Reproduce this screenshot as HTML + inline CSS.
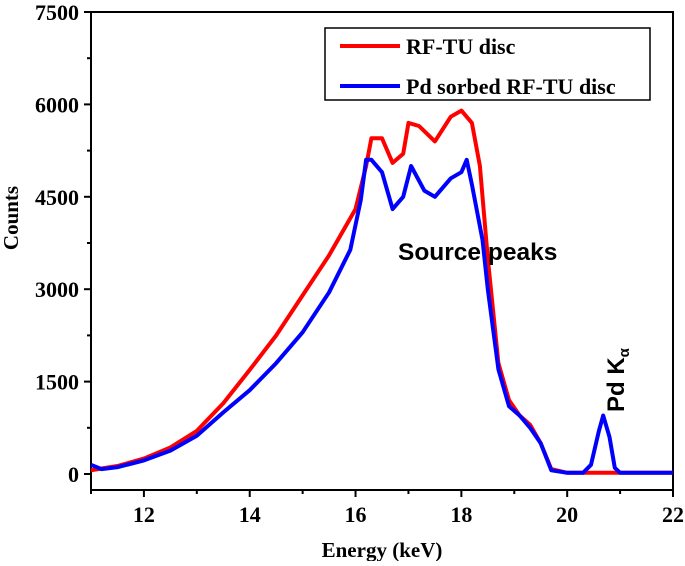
<!DOCTYPE html>
<html><head><meta charset="utf-8"><style>
body{margin:0;background:#fff}
svg text{font-family:"Liberation Serif",serif;font-weight:bold;fill:#000}
</style></head><body>
<svg id="c" width="685" height="561" xmlns="http://www.w3.org/2000/svg"></svg>
<script>
const xTicks=[12,14,16,18,20,22];
const yTicks=[0,1500,3000,4500,6000,7500];
const redE=[11,11.2,11.5,12,12.5,13,13.5,14,14.5,15,15.5,16,16.2,16.3,16.5,16.7,16.9,17.0,17.2,17.5,17.8,18.0,18.2,18.35,18.5,18.7,18.9,19.1,19.3,19.5,19.7,20,22];
const redC=[60,90,130,250,430,700,1150,1690,2250,2900,3550,4300,5000,5450,5450,5050,5200,5700,5650,5400,5800,5900,5700,5000,3500,1800,1200,950,800,500,80,20,20];
const blueE=[11,11.2,11.5,12,12.5,13,13.5,14,14.5,15,15.5,15.9,16.1,16.2,16.3,16.5,16.7,16.9,17.05,17.3,17.5,17.8,18.0,18.1,18.2,18.4,18.5,18.7,18.9,19.1,19.3,19.5,19.7,20,20.3,20.45,20.6,20.68,20.8,20.9,21,22];
const blueC=[150,80,110,220,380,620,1000,1360,1800,2300,2950,3640,4450,5100,5100,4900,4300,4500,5000,4600,4500,4800,4900,5100,4700,3800,3000,1700,1100,950,750,500,60,20,20,150,700,950,600,100,20,20];
const L=91,R=673,T=12,B=490;
const sx=e=>L+(e-11)*(R-L)/11;
const sy=c=>474-c*(474-12)/7500;
const NS="http://www.w3.org/2000/svg",svg=document.getElementById('c');
function mk(t,a,p){const e=document.createElementNS(NS,t);for(const k in a)e.setAttribute(k,a[k]);(p||svg).appendChild(e);return e;}
const frame=mk('rect',{x:L,y:T,width:R-L,height:B-T,fill:'none',stroke:'#000','stroke-width':2});


for(let i=0;i<xTicks.length;i++){const v=xTicks[i];
 const t=mk('line',{x1:sx(v),x2:sx(v),y1:B,y2:B+7,stroke:'#000','stroke-width':2});
 
 
 const m=mk('line',{x1:sx(v-1),x2:sx(v-1),y1:B,y2:B+4,stroke:'#000','stroke-width':2});
 
 
 const l=mk('text',{x:sx(v),y:B+32,'text-anchor':'middle','font-size':22});l.textContent=v;
 
 }
for(let i=0;i<yTicks.length;i++){const v=yTicks[i];
 const t=mk('line',{x1:L-7,x2:L,y1:sy(v),y2:sy(v),stroke:'#000','stroke-width':2});
 
 
 if(v<7500){const m=mk('line',{x1:L-4,x2:L,y1:sy(v+750),y2:sy(v+750),stroke:'#000','stroke-width':2});
 
 }
 const l=mk('text',{x:L-12,y:sy(v)+8,'text-anchor':'end','font-size':22});l.textContent=v;
 
 }
const xt=mk('text',{x:382,y:557,'text-anchor':'middle','font-size':21});xt.textContent='Energy (keV)';


const yt=mk('text',{x:0,y:0,'text-anchor':'middle','font-size':21,transform:'translate(18,218) rotate(-90)'});yt.textContent='Counts';


function path(E,C){return E.map((e,i)=>(i?'L':'M')+sx(e).toFixed(1)+' '+sy(C[i]).toFixed(1)).join(' ');}
const pr=mk('path',{d:path(redE,redC),fill:'none',stroke:'#ff0000','stroke-width':4,'stroke-linejoin':'round'});


const pb=mk('path',{d:path(blueE,blueC),fill:'none',stroke:'#0000ff','stroke-width':4,'stroke-linejoin':'round'});


const lg=mk('g',{});


mk('rect',{x:325,y:28,width:325,height:72,fill:'#fff',stroke:'#000','stroke-width':1.5},lg);
mk('line',{x1:340,x2:400,y1:46,y2:46,stroke:'#ff0000','stroke-width':4},lg);
mk('line',{x1:340,x2:400,y1:86,y2:86,stroke:'#0000ff','stroke-width':4},lg);
const l1=mk('text',{x:406,y:54,'font-size':22},lg);l1.textContent='RF-TU disc';


const l2=mk('text',{x:406,y:94,'font-size':22},lg);l2.textContent='Pd sorbed RF-TU disc';


const sp=mk('text',{x:398,y:260,'font-size':24.5,style:'font-family:"Liberation Sans",sans-serif'});sp.textContent='Source peaks';


const pk=mk('text',{x:0,y:0,'font-size':24,transform:'translate(624,412) rotate(-90)',style:'font-family:"Liberation Sans",sans-serif'});
pk.innerHTML='Pd K<tspan font-size="15" dy="5">α</tspan>';


</script>
</body></html>
